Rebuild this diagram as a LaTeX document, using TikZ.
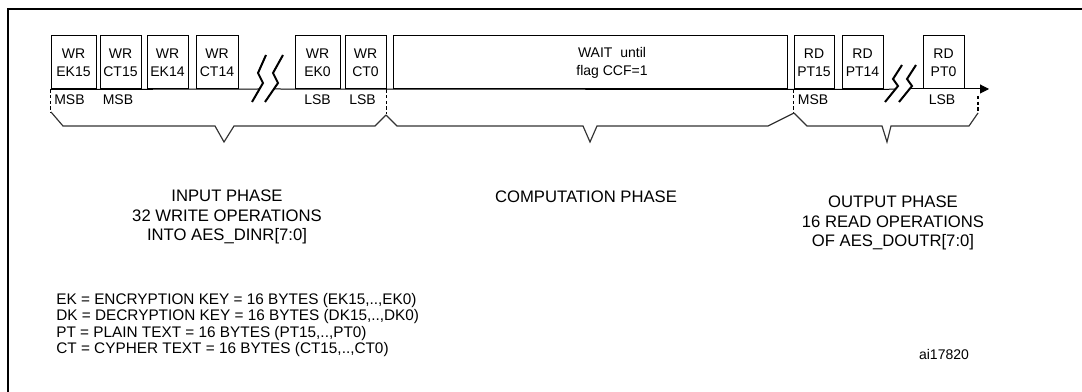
\documentclass[tikz,border=0pt]{standalone}
\usepackage{fontspec}
\setmainfont{Liberation Sans}
\usetikzlibrary{arrows.meta}

\begin{document}
\begin{tikzpicture}[x=0.6pt, y=-0.6pt, >={Triangle[length=5.4pt, width=5.4pt]},
  opbox/.style={draw, line width=0.6pt, inner sep=0pt, minimum width=#1*0.6pt,
    minimum height=53*0.6pt, align=center, font=\fontsize{8.4}{10.8}\selectfont},
  lbl/.style={inner sep=0pt, font=\fontsize{8.4}{10}\selectfont},
  phase/.style={inner sep=0pt, align=center, font=\fontsize{10}{11.7}\selectfont},
  tick/.style={line width=1.1pt, dash pattern=on 2pt off 1.4pt},
  brace/.style={line width=0.7pt, black!80},
  brk/.style={line width=1.2pt}]
  \useasboundingbox (0,0) rectangle (1082,392);
  % Frame
  \draw[line width=1.2pt] (8,392) -- (8,9) -- (1082,9);
  % Write operations
  \node[opbox=45] (ek15) at (73.5,62.5) {WR\\EK15};
  \node[opbox=41] (ct15) at (120.5,62.5) {WR\\CT15};
  \node[opbox=41] (ek14) at (167.5,62.5) {WR\\EK14};
  \node[opbox=42] (ct14) at (217,62.5) {WR\\CT14};
  \node[opbox=45] (ek0) at (317.5,62.5) {WR\\EK0};
  \node[opbox=41] (ct0) at (365.5,62.5) {WR\\CT0};
  % Wait box
  \node[opbox=394] (wait) at (590,62.5) {};
  \node[lbl, align=center, font=\fontsize{8.4}{10.8}\selectfont] (waittxt) at (612,63) {WAIT\ \ until\\flag CCF=1};
  % Read operations
  \node[opbox=40] (pt15) at (814,62.5) {RD\\PT15};
  \node[opbox=41] (pt14) at (862.5,62.5) {RD\\PT14};
  \node[opbox=41] (pt0) at (943.5,62.5) {RD\\PT0};
  % Time line with breaks
  \coordinate (cutA) at (260,89);
  \coordinate (cutB) at (274,89);
  \coordinate (cutC) at (895,89);
  \coordinate (cutD) at (909,89);
  \coordinate (tend) at (989,89);
  \draw[line width=0.6pt] (ek15.south west) -- (cutA);
  \draw[line width=0.6pt] (cutB) -- (pt14.south east) -- (cutC);
  \draw[line width=0.6pt, ->] (cutD) -- (tend);
  \draw[brk] (266,55) -- (258,73) -- (263,83) -- (252,102);
  \draw[brk] (283,55) -- (273,73) -- (278,83) -- (265,102);
  \draw[brk] (902,65) -- (893,79) -- (898,86) -- (885,102);
  \draw[brk] (916,65) -- (907,79) -- (912,86) -- (899,102);
  % MSB / LSB marks
  \draw[tick] (ek15.south west) -- ++(0,23);
  \draw[tick] (ct0.south east) -- ++(0,25);
  \draw[tick] (pt15.south west) -- ++(0,24);
  \draw[tick] (978,96) -- (978,113);
  \node[lbl] (msb1) at (69.5,100) {MSB};
  \node[lbl] (msb2) at (118,100) {MSB};
  \node[lbl] (lsb1) at (317.5,100) {LSB};
  \node[lbl] (lsb2) at (362.5,100) {LSB};
  \node[lbl] (msb3) at (813,100) {MSB};
  \node[lbl] (lsb3) at (942,100) {LSB};
  % Braces
  \draw[brace] (51,112) -- (63,126) -- (215,126) -- (224,142) -- (234,126) -- (375,126) -- (386,115);
  \draw[brace] (386,115) -- (397,126) -- (583,126) -- (590,142) -- (597,126) -- (768,126) -- (794,113);
  \draw[brace] (794,113) -- (807,126) -- (882,126) -- (887,142) -- (891,126) -- (969,126) -- (978,113);
  % Phase labels
  \node[phase] (inph) at (227,217) {INPUT PHASE\\32 WRITE OPERATIONS\\INTO AES\_DINR[7:0]};
  \node[phase] (cmph) at (586,197) {COMPUTATION PHASE};
  \node[phase] (outph) at (893,223) {OUTPUT PHASE\\16 READ OPERATIONS\\OF AES\_DOUTR[7:0]};
  % Legend
  \node[inner sep=0pt, anchor=west, align=left, font=\fontsize{9.2}{9.8}\selectfont] (keys) at (56,325)
    {EK = ENCRYPTION KEY = 16 BYTES (EK15,..,EK0)\\
     DK = DECRYPTION KEY = 16 BYTES (DK15,..,DK0)\\
     PT = PLAIN TEXT = 16 BYTES (PT15,..,PT0)\\
     CT = CYPHER TEXT = 16 BYTES (CT15,..,CT0)};
  \node[lbl] (ref) at (944,354) {ai17820};
\end{tikzpicture}
\end{document}
